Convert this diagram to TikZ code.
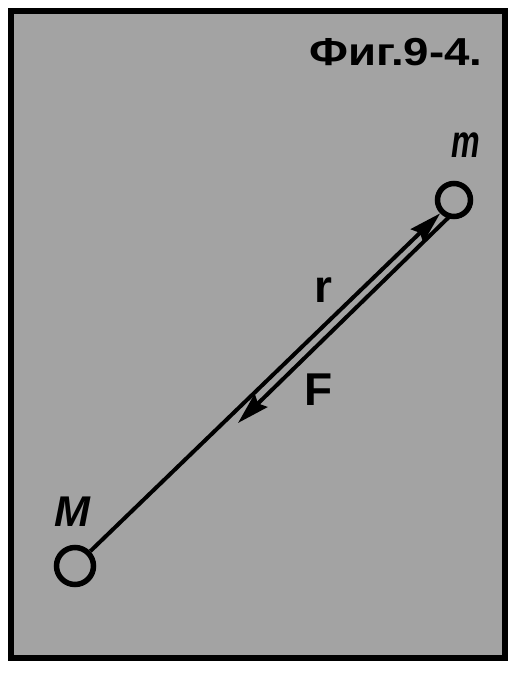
\documentclass[tikz,border=0pt]{standalone}
\usepackage{fontspec}
\setmainfont{Liberation Sans}
\usetikzlibrary{arrows.meta}
\definecolor{bggray}{gray}{0.64}
\tikzset{
  mass/.style={circle, draw=black, line width=5.5pt, inner sep=0pt, minimum size=37pt},
  vec/.style={line width=4pt, -{Stealth[length=32pt,width=18pt,inset=4pt]}},
  lbl/.style={inner sep=0pt, font=\bfseries},
}
\begin{document}
\begin{tikzpicture}[x=1pt,y=-1pt]
\useasboundingbox (0,0) rectangle (518,680);
\fill[bggray] (11,10.5) rectangle (505,658);
\draw[line width=6pt] (11,10.5) rectangle (505,658);
\node[lbl, font=\fontsize{39}{39}\selectfont\bfseries, xscale=1.17] (title) at (396,52) {Фиг.9-4.};
\node[mass] (M) at (75,566) {};
\node[mass, minimum size=33pt] (m) at (454,200) {};
\node[lbl, font=\fontsize{43}{43}\selectfont\bfseries\itshape] (Mlab) at (72,512) {M};
\node[lbl, font=\fontsize{46}{46}\selectfont\bfseries\itshape, xscale=0.7] (mlab) at (466,145) {m};
\node[lbl, font=\fontsize{46}{46}\selectfont\bfseries] (rlab) at (323,290) {r};
\node[lbl, font=\fontsize{46}{46}\selectfont\bfseries] (Flab) at (319,390) {F};
\coordinate (Fs) at (450,216);
\coordinate (Fe) at (238,423);
\draw[vec] (M) -- (m);
\draw[vec] (Fs) -- (Fe);
\end{tikzpicture}
\end{document}
